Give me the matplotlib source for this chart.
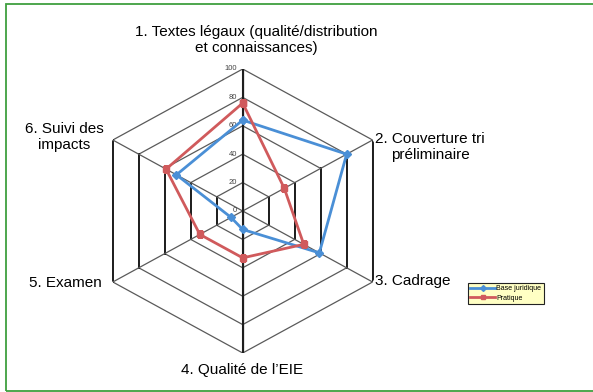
import numpy as np
import matplotlib
matplotlib.use("Agg")
import matplotlib.pyplot as plt
from matplotlib.patches import Rectangle

categories = ["1. Textes légaux (qualité/distribution\net connaissances)",
              "2. Couverture tri\npréliminaire",
              "3. Cadrage",
              "4. Qualité de l\u2019EIE",
              "5. Examen",
              "6. Suivi des\nimpacts"]
base_juridique = [64, 80, 59, 13, 9, 51]
pratique = [76, 32, 47, 33, 33, 59]
ticks = [0, 20, 40, 60, 80, 100]

plt.rcParams['font.family'] = ['Liberation Sans', 'DejaVu Sans']

W, H = 593, 392
fig = plt.figure(figsize=(W / 100, H / 100), dpi=100)

# green frame (top, left, bottom; open on the right)
fig.patches.append(Rectangle((6 / W, 1 - 391 / H), 1.0, (391 - 4) / H,
                             transform=fig.transFigure, fill=False,
                             edgecolor='#3f9f3f', lw=1.3))

cx, cy = 242.7, 211
rx, ry = 150, 142
ax = fig.add_axes([(cx - rx) / W, (H - cy - ry) / H, 2 * rx / W, 2 * ry / H],
                  projection='polar')
ax.set_aspect('auto')
ax.set_theta_offset(np.pi / 2)
ax.set_theta_direction(-1)
ax.set_ylim(0, 100)
ax.grid(False)
ax.spines['polar'].set_visible(False)
ax.set_xticks([])
ax.set_yticks([])
ax.patch.set_alpha(0)

n = len(categories)
ang = np.arange(n) * 2 * np.pi / n
ang_c = np.append(ang, ang[0])

# hexagon rings
for t in ticks[1:]:
    ax.plot(ang_c, [t] * (n + 1), color='#5a5a5a', lw=0.9, zorder=1)
    # the vertical sides come out darker in the original
    ax.plot(ang[1:3], [t, t], color='#1e1e1e', lw=1.4, zorder=1)
    ax.plot(ang[4:6], [t, t], color='#1e1e1e', lw=1.4, zorder=1)
# spokes
for a in ang:
    ax.plot([a, a], [0, 100], color='#5a5a5a', lw=0.9, zorder=1)
ax.plot([0, 0], [0, 100], color='#1e1e1e', lw=1.5, zorder=1)
ax.plot([np.pi, np.pi], [0, 100], color='#1e1e1e', lw=1.5, zorder=1)

# tick labels
for t in ticks:
    ax.annotate(str(t), xy=(0, t), xytext=(-4, 0), textcoords='offset points',
                ha='right', va='center', fontsize=5.5, color='#444444')

blue = '#4a8fd6'
red = '#d05a5c'
ax.plot(ang_c, base_juridique + base_juridique[:1], color=blue, lw=2,
        marker='D', ms=4, label='Base juridique', zorder=3)
ax.plot(ang_c, pratique + pratique[:1], color=red, lw=2,
        marker='s', ms=5, label='Pratique', zorder=3)

# category labels
fs = 11
fig.text(256 / W, 1 - 40 / H, categories[0], ha='center', va='center',
         fontsize=fs, linespacing=1.2)
fig.text(430 / W, 1 - 147 / H, categories[1], ha='center', va='center',
         fontsize=fs, linespacing=1.2)
fig.text(375 / W, 1 - 281 / H, categories[2], ha='left', va='center', fontsize=fs)
fig.text(242 / W, 1 - 370 / H, categories[3], ha='center', va='center', fontsize=fs)
fig.text(102 / W, 1 - 283 / H, categories[4], ha='right', va='center', fontsize=fs)
fig.text(64 / W, 1 - 137 / H, categories[5], ha='center', va='center',
         fontsize=fs, linespacing=1.2)

leg = fig.legend(loc='upper left', bbox_to_anchor=(468 / W, 1 - 283 / H),
                 fontsize=5, frameon=True, fancybox=False, framealpha=1,
                 facecolor='#ffffc4', edgecolor='#222222', borderpad=0.35,
                 handlelength=3.6, handletextpad=0.1, labelspacing=0.35,
                 borderaxespad=0)
leg.get_frame().set_linewidth(0.8)
for h in leg.legend_handles:
    h.set_markersize(3)

fig.savefig('out.png', dpi=100)
